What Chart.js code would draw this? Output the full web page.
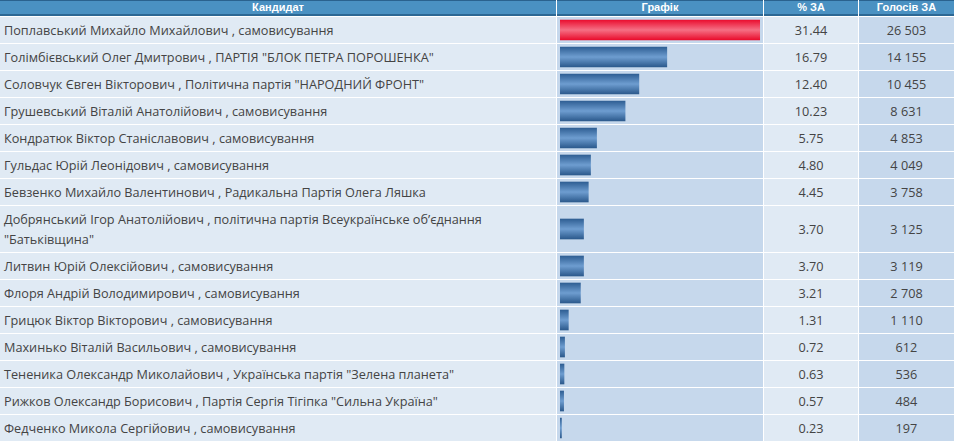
<!DOCTYPE html>
<html lang="uk">
<head>
  <meta charset="UTF-8">
  <title>Результати голосування</title>
  <script src="https://cdn.jsdelivr.net/npm/chart.js"></script>
  <style>
    html, body { margin: 0; padding: 0; background: #fff; }
    #grid {
      display: grid;
      grid-template-columns: 556px 206px 94px 95px;
      column-gap: 1px;
      row-gap: 1px;
      width: 954px;
      background: #fff;
      font-family: "Open Sans", sans-serif;
      font-size: 12.7px;
      color: #444;
    }
    .th {
      background: #4a91c2;
      border-top: 1px solid #2a628e;
      border-bottom: 2px solid #2d6894;
      height: 13px;
      line-height: 13px;
      color: #fff;
      font-family: "Liberation Sans", sans-serif;
      font-weight: bold;
      font-size: 11px;
      text-align: center;
    }
    .name { background: #e0eaf4; padding: 3px 4px; line-height: 20px; }
    .bar { background: #c6d8ec; position: relative; }
    .pct { background: #e0eaf4; text-align: center; display: flex; align-items: center; justify-content: center; }
    .votes { background: #c6d8ec; text-align: center; display: flex; align-items: center; justify-content: center; }
    .bar canvas { position: absolute; left: 0; top: 0; }
  </style>
</head>
<body>
  <div id="grid">
    <div class="th">Кандидат</div>
    <div class="th">Графік</div>
    <div class="th">% ЗА</div>
    <div class="th">Голосів ЗА</div>
  </div>

  <script>
    // Дані з таблиці
    const names = [
      'Поплавський Михайло Михайлович',
      'Голімбієвський Олег Дмитрович',
      'Соловчук Євген Вікторович',
      'Грушевський Віталій Анатолійович',
      'Кондратюк Віктор Станіславович',
      'Гульдас Юрій Леонідович',
      'Бевзенко Михайло Валентинович',
      'Добрянський Ігор Анатолійович',
      'Литвин Юрій Олексійович',
      'Флоря Андрій Володимирович',
      'Грицюк Віктор Вікторович',
      'Махинько Віталій Васильович',
      'Тененика Олександр Миколайович',
      'Рижков Олександр Борисович',
      'Федченко Микола Сергійович'
    ];
    const parties = [
      'самовисування',
      'ПАРТІЯ "БЛОК ПЕТРА ПОРОШЕНКА"',
      'Політична партія "НАРОДНИЙ ФРОНТ"',
      'самовисування',
      'самовисування',
      'самовисування',
      'Радикальна Партія Олега Ляшка',
      'політична партія Всеукраїнське об’єднання "Батьківщина"',
      'самовисування',
      'самовисування',
      'самовисування',
      'самовисування',
      'Українська партія "Зелена планета"',
      'Партія Сергія Тігіпка "Сильна Україна"',
      'самовисування'
    ];
    const percents = [31.44, 16.79, 12.40, 10.23, 5.75, 4.80, 4.45, 3.70, 3.70, 3.21, 1.31, 0.72, 0.63, 0.57, 0.23];
    const votes = [26503, 14155, 10455, 8631, 4853, 4049, 3758, 3125, 3119, 2708, 1110, 612, 536, 484, 197];

    const maxPct = Math.max(...percents);
    const grid = document.getElementById('grid');

    function fmtVotes(v) {
      return String(v).replace(/\B(?=(\d{3})+(?!\d))/g, ' ');
    }

    // gradient across the bar's height
    function barFill(context, winner) {
      const chart = context.chart;
      const area = chart.chartArea;
      if (!area) return winner ? '#ee2244' : '#3f6fa3';
      const mid = (area.top + area.bottom) / 2;
      const g = chart.ctx.createLinearGradient(0, mid - 10, 0, mid + 10);
      if (winner) {
        g.addColorStop(0, '#ea0f30');
        g.addColorStop(0.5, '#f56f84');
        g.addColorStop(1, '#e90c2c');
      } else {
        g.addColorStop(0, '#2f5f94');
        g.addColorStop(0.5, '#6e9dd0');
        g.addColorStop(1, '#2c5a8d');
      }
      return g;
    }

    const barCells = [];
    names.forEach((name, i) => {
      const c1 = document.createElement('div');
      c1.className = 'name';
      c1.textContent = name + ' , ' + parties[i];
      const c2 = document.createElement('div');
      c2.className = 'bar';
      const c3 = document.createElement('div');
      c3.className = 'pct';
      c3.textContent = percents[i].toFixed(2);
      const c4 = document.createElement('div');
      c4.className = 'votes';
      c4.textContent = fmtVotes(votes[i]);
      grid.append(c1, c2, c3, c4);
      barCells.push(c2);
    });

    barCells.forEach((cell, i) => {
      const canvas = document.createElement('canvas');
      canvas.width = cell.clientWidth;
      canvas.height = cell.clientHeight;
      canvas.style.width = cell.clientWidth + 'px';
      canvas.style.height = cell.clientHeight + 'px';
      cell.appendChild(canvas);
      new Chart(canvas, {
        type: 'bar',
        data: {
          labels: [names[i]],
          datasets: [{
            data: [percents[i]],
            backgroundColor: ctx => barFill(ctx, i === 0),
            borderWidth: 0,
            barThickness: 20
          }]
        },
        options: {
          indexAxis: 'y',
          responsive: false,
          animation: false,
          layout: { padding: { left: 3, right: 3, top: 0, bottom: 0 } },
          scales: {
            x: { display: false, min: 0, max: maxPct },
            y: { display: false }
          },
          plugins: {
            legend: { display: false },
            tooltip: { enabled: false }
          }
        }
      });
    });
  </script>
</body>
</html>
